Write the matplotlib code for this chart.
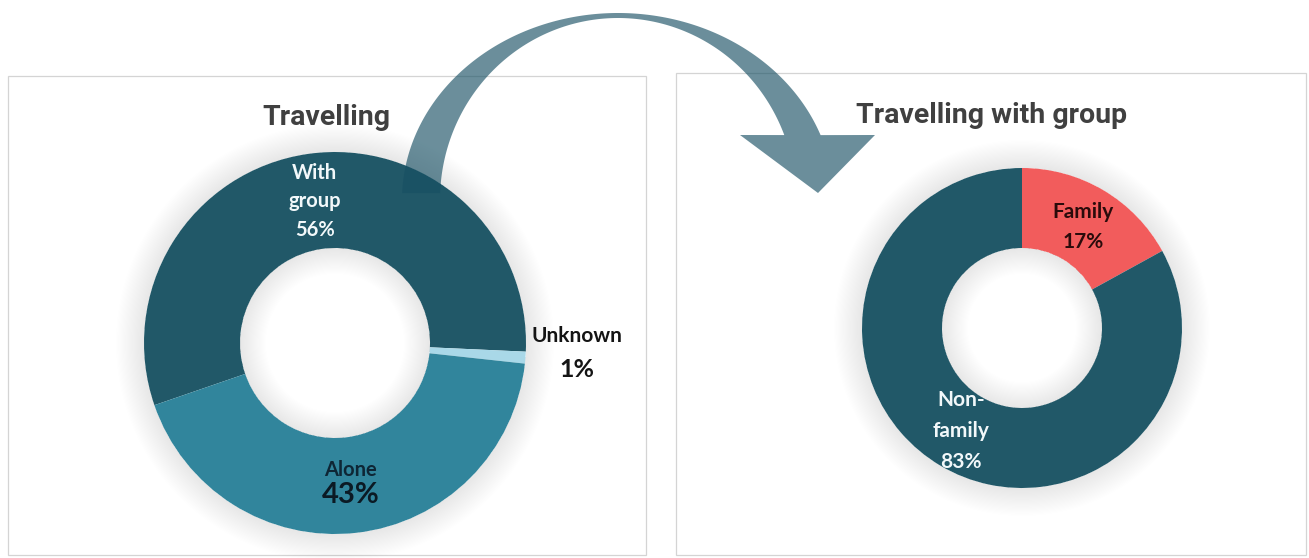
import numpy as np
import matplotlib
matplotlib.use('Agg')
import matplotlib.pyplot as plt
from matplotlib.patches import Rectangle, Wedge, Polygon

# ---------------- data ----------------
travel_labels = ['With\ngroup', 'Unknown', 'Alone']
travel_values = [56, 1, 43]
travel_colors = ['#215868', '#A9D8E8', '#31859C']

group_labels = ['Family', 'Non-\nfamily']
group_values = [17, 83]
group_colors = ['#F25C5C', '#215868']

titles = ['Travelling', 'Travelling with group']

# ---------------- figure in pixel coordinates ----------------
W, H = 1309, 558
fig = plt.figure(figsize=(W / 100, H / 100), dpi=100)
ax = fig.add_axes([0, 0, 1, 1])


def Y(y):
    return H - y


LBL = ['Lato', 'DejaVu Sans']
TTL = ['Roboto', 'DejaVu Sans']

# panel boxes
ax.add_patch(Rectangle((8, Y(555)), 638, 479, fill=False, ec='#D4D4D4', lw=0.9, zorder=0))
ax.add_patch(Rectangle((676, Y(555)), 630, 482, fill=False, ec='#D4D4D4', lw=0.9, zorder=0))

L_c, L_r, L_w = (335, Y(343)), 191, 96
R_c, R_r, R_w = (1022, Y(328)), 160, 80


def glow(center, r_out, r_in, n=24):
    for k in range(n):
        d = 28 * (1 - k / n)
        ax.add_patch(Wedge(center, r_out + d, 0, 360, width=d, fc='k', alpha=0.0032, lw=0, zorder=1))
    for k in range(n):
        d = 26 * (k + 1) / n
        ax.add_patch(Wedge(center, r_in, 0, 360, width=d, fc='k', alpha=0.0035, lw=0, zorder=3))


wl, _ = ax.pie(travel_values, radius=L_r, center=L_c, startangle=199, counterclock=False,
               colors=travel_colors, wedgeprops=dict(width=L_w, edgecolor='none'))
wr, _ = ax.pie(group_values, radius=R_r, center=R_c, startangle=90, counterclock=False,
               colors=group_colors, wedgeprops=dict(width=R_w, edgecolor='none'))
for w in list(wl) + list(wr):
    w.set_zorder(2)

glow(L_c, L_r, L_r - L_w)
glow(R_c, R_r, R_r - R_w)


def mid(w, center, r):
    a = np.radians((w.theta1 + w.theta2) / 2)
    return center[0] + r * np.cos(a), center[1] + r * np.sin(a)


rm_l = L_r - L_w / 2
rm_r = R_r - R_w / 2

# With group
x, y = mid(wl[0], L_c, rm_l)
ax.text(x, y, f"{travel_labels[0]}\n{travel_values[0]}%", ha='center', va='center',
        family=LBL, weight='bold', fontsize=14.5, color='#F2F8FA', linespacing=1.55, zorder=5)
# Alone
x, y = mid(wl[2], L_c, rm_l)
ax.text(x, y + 15, travel_labels[2], ha='center', va='center', family=LBL, weight='bold',
        fontsize=14.5, color='#0E2635', zorder=5)
ax.text(x, y - 10, f"{travel_values[2]}%", ha='center', va='center', family=LBL, weight='bold',
        fontsize=21, color='#0B1A24', zorder=5)
# Unknown (outside)
x, y = mid(wl[1], L_c, L_r * 1.27)
ax.text(x, y + 26, travel_labels[1], ha='center', va='center', family=LBL, weight='bold',
        fontsize=15, color='#141414', zorder=5)
ax.text(x, y - 8, f"{travel_values[1]}%", ha='center', va='center', family=LBL, weight='bold',
        fontsize=18, color='#141414', zorder=5)

# Family
x, y = mid(wr[0], R_c, rm_r)
ax.text(x, y - 2, f"{group_labels[0]}\n{group_values[0]}%", ha='center', va='center',
        family=LBL, weight='bold', fontsize=15, color='#2A0B0B', linespacing=1.65, zorder=5)
# Non-family
x, y = mid(wr[1], R_c, rm_r)
ax.text(x, y, f"{group_labels[1]}\n{group_values[1]}%", ha='center', va='center',
        family=LBL, weight='bold', fontsize=15, color='#F2F8FA', linespacing=1.7, zorder=5)

# titles
ax.text(326, Y(125), titles[0], ha='center', va='baseline', family=TTL, weight='bold',
        fontsize=20.5, color='#404040', zorder=5)
ax.text(992, Y(123), titles[1], ha='center', va='baseline', family=TTL, weight='bold',
        fontsize=20.5, color='#404040', zorder=5)

# curved arrow
cx, cy = 618, 200
t_o = np.radians(np.linspace(177.9, 20.3, 200))
outer = np.c_[cx + 216 * np.cos(t_o), cy - 187 * np.sin(t_o)]
t_i = np.radians(np.linspace(20.9, 177.8, 200))
inner = np.c_[cx + 178 * np.cos(t_i), cy - 182 * np.sin(t_i)]
head = np.array([[875, 135], [818, 193], [740, 135]])
pts = np.vstack([outer, head, inner]).astype(float)
pts[:, 1] = H - pts[:, 1]
ax.add_patch(Polygon(pts, closed=True, fc='#174F63', alpha=0.64, lw=0, zorder=6))

ax.set_xlim(0, W)
ax.set_ylim(0, H)
ax.set_aspect('auto')
ax.axis('off')

fig.savefig('out.png', dpi=100, facecolor='white')
